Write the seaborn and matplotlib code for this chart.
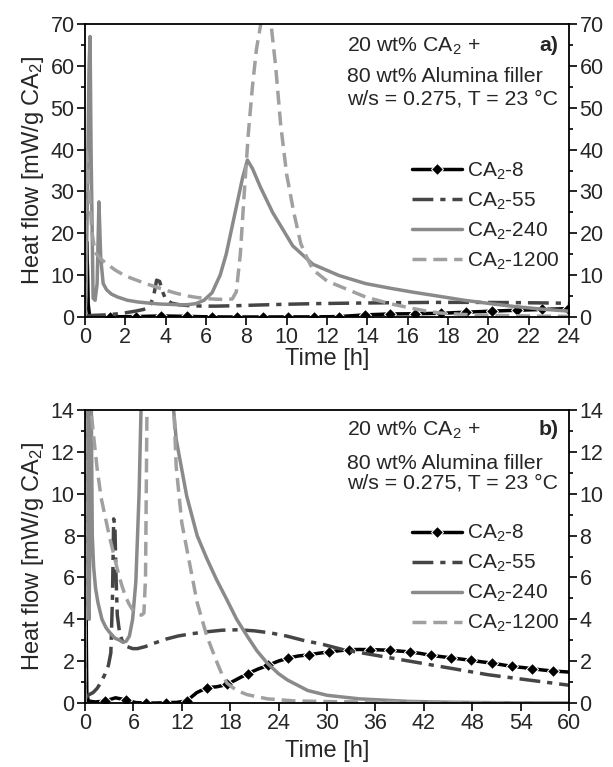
import matplotlib
matplotlib.use('Agg')
import matplotlib.pyplot as plt
from matplotlib.ticker import MultipleLocator
import seaborn as sns
import pandas as pd

# CA2-8: initial spike, then points every ~1.26 h (these carry the markers)
t8 = [0, 0.04, 0.08, 0.12, 0.16, 0.22, 0.4,
      1.26, 2.52, 3.78, 5.04, 6.30, 7.56, 8.82, 10.08, 11.34, 12.60,
      13.86, 15.12, 16.38, 17.64, 18.90, 20.16, 21.42, 22.68, 23.94, 25.20,
      26.46, 27.72, 28.98, 30.24, 31.50, 32.76, 34.02, 35.28, 36.54, 37.80,
      39.06, 40.32, 41.58, 42.84, 44.10, 45.36, 46.62, 47.88, 49.14, 50.40,
      51.66, 52.92, 54.18, 55.44, 56.70, 57.96, 59.22, 60.0]
hf8 = [0, 8, 18, 12, 3, 0.5, 0.1,
       0.05, 0.1, 0.25, 0.15, 0.02, 0.0, 0.0, 0.02, 0.03, 0.1,
       0.5, 0.73, 0.78, 0.89, 1.15, 1.40, 1.62, 1.80, 2.0, 2.15,
       2.25, 2.30, 2.38, 2.44, 2.50, 2.55, 2.56, 2.55, 2.54, 2.52,
       2.48, 2.44, 2.37, 2.28, 2.22, 2.16, 2.10, 2.04, 1.97, 1.91,
       1.83, 1.75, 1.70, 1.64, 1.58, 1.53, 1.50, 1.48]
n_spike8 = 7

t55 = [0, 0.4, 1.0, 1.5, 2.0, 2.5, 2.9, 3.2, 3.4, 3.55, 3.7, 3.85, 4.0, 4.3,
       4.7, 5.2, 5.9, 6.5, 7.5, 8.5, 10, 11.5, 13, 15, 17, 19, 21, 23, 25, 27,
       29.5, 32, 35, 38, 41, 44, 47, 50, 53, 56, 59, 60]
hf55 = [0.2, 0.38, 0.5, 0.7, 1.0, 1.4, 1.8, 2.4, 5, 8.8, 8.5, 6, 4.2, 3.3,
        2.9, 2.7, 2.6, 2.6, 2.7, 2.85, 3.05, 3.2, 3.3, 3.4, 3.48, 3.5, 3.45, 3.35,
        3.2, 3.0, 2.8, 2.55, 2.35, 2.15, 1.95, 1.75, 1.55, 1.35, 1.2, 1.05, 0.9, 0.85]

t240 = [0, 0.05, 0.12, 0.2, 0.25, 0.3, 0.4, 0.5, 0.6, 0.69, 0.78, 0.9, 1.07,
        1.3, 1.6, 2.1, 2.6, 3.0, 3.7, 4.3, 4.7, 5.1, 5.5, 5.9, 6.3, 6.7, 7.0,
        7.4, 7.8, 8.05, 8.3, 8.7, 9.3, 10.3, 11.3, 12.6, 13.9, 15.1, 16.3, 17.5,
        18.8, 20.1, 21.3, 22.6, 24.0, 25.1, 27.6, 30, 34, 40, 45, 50, 55, 60]
hf240 = [0, 5, 30, 60, 67, 40, 4.5, 4, 8, 27.5, 14, 8, 6.5,
         5.5, 4.8, 4.0, 3.6, 3.4, 3.1, 3.0, 2.9, 2.95, 3.2, 4.0, 5.8, 10, 15,
         24, 33, 37.5, 35.5, 31, 25, 17, 12.6, 9.9, 8.0, 6.9, 5.9, 5.0,
         4.0, 3.2, 2.5, 1.9, 1.4, 1.1, 0.6, 0.37, 0.2, 0.08, 0.04, 0.02, 0.01, 0.0]

t1200 = [0, 0.03, 0.08, 0.15, 0.25, 0.35, 0.5, 0.7, 1.0, 1.5, 2.0, 2.5, 3.0,
         3.5, 4.0, 4.5, 5.0, 5.5, 6.0, 6.5, 7.0, 7.3, 7.5, 7.7, 7.9, 8.1, 8.3,
         8.5, 8.75, 9.0, 9.2, 9.45, 9.7, 10.0, 10.35, 10.7, 11.0, 11.3, 12.0,
         12.6, 13.3, 13.9, 14.5, 15.1, 15.8, 16.4, 17.0, 17.6, 18.8, 20.1, 22.6,
         26, 30, 35, 40, 45, 50, 60]
hf1200 = [0, 40, 39, 34, 27, 20, 15.5, 14.2, 13, 11.2, 9.8, 8.9, 8.0,
          7.2, 6.4, 5.7, 5.1, 4.7, 4.4, 4.25, 4.2, 4.3, 6, 15, 30, 44, 55,
          64, 71, 73, 71, 60, 46, 34, 25, 17.5, 14.2, 11.3, 8.6,
          7.4, 6.0, 4.8, 4.0, 3.2, 2.5, 1.9, 1.35, 0.95, 0.6, 0.4, 0.2,
          0.1, 0.07, 0.05, 0.04, 0.02, 0.01, 0.0]

labels = ['CA$_2$-8', 'CA$_2$-55', 'CA$_2$-240', 'CA$_2$-1200']
note_lines = ['20 wt% CA$_2$ +', '80 wt% Alumina filler', 'w/s = 0.275, T = 23 °C']

sns.set_style('ticks')
plt.rcParams['font.family'] = ['Liberation Sans', 'DejaVu Sans']
plt.rcParams['mathtext.default'] = 'regular'
plt.rcParams['axes.linewidth'] = 1.3

fig = plt.figure(figsize=(6.13, 7.67), dpi=100)
ax_a = fig.add_axes([0.1387, 0.5867, 0.7896, 0.382])
ax_b = fig.add_axes([0.1387, 0.0834, 0.7896, 0.382])

panels = [
    (ax_a, 24, 2, 70, 10, 5, 'a)', slice(n_spike8, None), 0.535, 0),
    (ax_b, 60, 6, 14, 2, 1, 'b)', slice(n_spike8 + 1, -1, 2), 0.615, 4),
]

for ax, xmax, xstep, ymax, ystep, yminor, tag, mk, leg_y, xpad in panels:
    sns.lineplot(x=t8, y=hf8, ax=ax, color='black', lw=2, marker='D', ms=6.5,
                 markevery=mk, sort=False, estimator=None, label=labels[0])
    sns.lineplot(x=t55, y=hf55, ax=ax, color='#454545', lw=2,
                 dashes=False, sort=False, estimator=None, label=labels[1])
    ax.lines[-1].set_dashes([6, 2, 1.5, 2])
    sns.lineplot(x=t240, y=hf240, ax=ax, color='#8a8a8a', lw=2,
                 sort=False, estimator=None, label=labels[2])
    sns.lineplot(x=t1200, y=hf1200, ax=ax, color='#a0a0a0', lw=2,
                 sort=False, estimator=None, label=labels[3])
    ax.lines[-1].set_dashes([4, 2])

    ax.set_xlim(0, xmax)
    ax.set_ylim(0, ymax)
    ax.xaxis.set_major_locator(MultipleLocator(xstep))
    ax.yaxis.set_major_locator(MultipleLocator(ystep))
    ax.yaxis.set_minor_locator(MultipleLocator(yminor))
    ax.tick_params(axis='both', which='both', direction='out', labelsize=15.5,
                   width=1.2, color='black')
    ax.tick_params(axis='y', which='both', right=True, labelright=True, pad=2)
    ax.tick_params(which='major', length=5.5)
    ax.tick_params(which='minor', length=3)
    ax.tick_params(axis='x', top=False, pad=2)
    for s in ax.spines.values():
        s.set_visible(True)
        s.set_color('black')

    ax.set_xlabel('Time [h]', fontsize=17, labelpad=xpad)
    ax.set_ylabel('Heat flow [mW/g CA$_2$]', fontsize=17, labelpad=3)

    h, l = ax.get_legend_handles_labels()
    for hh in h:
        hh.set_linewidth(2.5)
    h[1].set_dashes([6, 2, 1.5, 2])
    h[3].set_dashes([4, 2])
    ax.legend(h, l, loc='upper left', bbox_to_anchor=(0.676, leg_y), frameon=False,
              fontsize=15, handlelength=2.4, handletextpad=0.25, labelspacing=0.42,
              borderpad=0, borderaxespad=0)

    ys = [0.925, 0.822, 0.744] if tag == 'a)' else [0.932, 0.819, 0.75]
    for txt, yy in zip(note_lines, ys):
        ax.text(0.541, yy, txt, transform=ax.transAxes, fontsize=15.3, va='center', ha='left')
    ax.text(0.978, ys[0], tag, transform=ax.transAxes, fontsize=15.3, fontweight='bold',
            va='center', ha='right')

fig.savefig('out.png', dpi=100)
